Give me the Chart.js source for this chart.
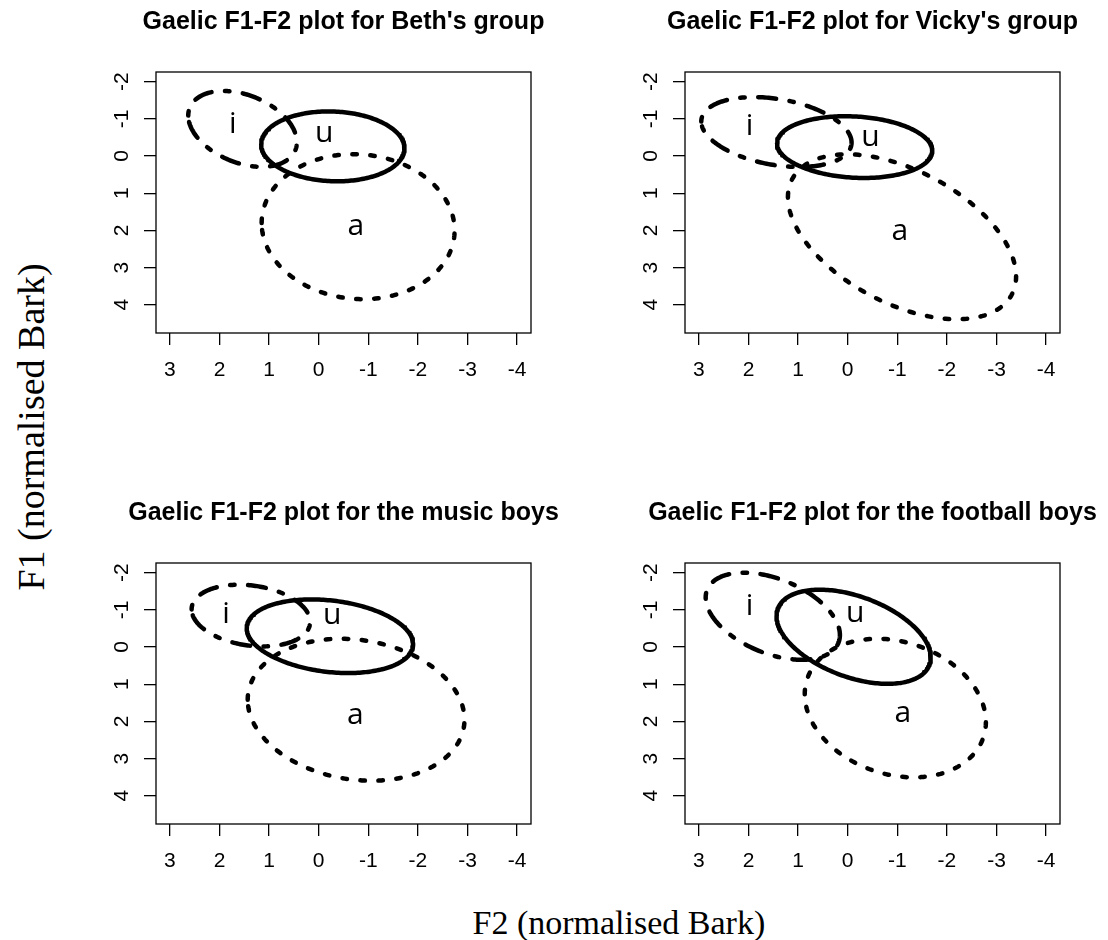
<!DOCTYPE html>
<html>
<head>
<meta charset="utf-8">
<title>Gaelic F1-F2 plots</title>
<script src="https://cdn.jsdelivr.net/npm/chart.js@4.4.1/dist/chart.umd.min.js"></script>
<style>
  html, body { margin: 0; padding: 0; background: #fff; }
  body { position: relative; width: 1108px; height: 940px; overflow: hidden; }
  .panel { position: absolute; }
  .axis-title {
    position: absolute;
    font-family: "Liberation Serif", "Times New Roman", serif;
    color: #000;
    white-space: nowrap;
    line-height: 1;
    transform-origin: center center;
  }
</style>
</head>
<body>
<div class="panel" id="panel0"><canvas id="chart0"></canvas></div>
<div class="panel" id="panel1"><canvas id="chart1"></canvas></div>
<div class="panel" id="panel2"><canvas id="chart2"></canvas></div>
<div class="panel" id="panel3"><canvas id="chart3"></canvas></div>
<div class="axis-title" id="yTitle">F1 (normalised Bark)</div>
<div class="axis-title" id="xTitle">F2 (normalised Bark)</div>

<script>
// ---- data ---------------------------------------------------------------
const panelTitles = [
  "Gaelic F1-F2 plot for Beth's group",
  "Gaelic F1-F2 plot for Vicky's group",
  "Gaelic F1-F2 plot for the music boys",
  "Gaelic F1-F2 plot for the football boys"
];
const vowels = ['i', 'u', 'a'];
const f2Ticks = [3, 2, 1, 0, -1, -2, -3, -4];
const f1Ticks = [-2, -1, 0, 1, 2, 3, 4];
const f2Limits = [-4, 3];
const f1Limits = [-2, 4.5];

// Vowel ellipses, rows i, u, a:
// [F2 centre, F1 centre, F2 half-range, F1 half-range, tilt]
// tilt = relative F1 offset of the point where F2 is largest
const bethEllipses = [
  [1.535, -0.73, 1.095, 1.02, -0.35],
  [-0.285, -0.26, 1.445, 0.94, -0.06],
  [-0.795, 1.90, 1.945, 1.95, -0.05]
];
const vickyEllipses = [
  [1.437, -0.645, 1.515, 0.94, -0.30],
  [-0.14, -0.24, 1.565, 0.83, -0.12],
  [-1.095, 2.172, 2.30, 2.218, -0.48]
];
const musicEllipses = [
  [1.367, -0.846, 1.195, 0.83, -0.20],
  [-0.226, -0.29, 1.677, 0.99, -0.22],
  [-0.754, 1.687, 2.185, 1.909, -0.14]
];
const footballEllipses = [
  [1.51, -0.828, 1.353, 1.172, -0.43],
  [-0.12, -0.276, 1.555, 1.266, -0.44],
  [-0.96, 1.642, 1.826, 1.864, -0.20]
];

// Vowel label anchors [F2, F1], rows i, u, a
const bethLabels = [[1.73, -0.86], [-0.11, -0.60], [-0.75, 1.89]];
const vickyLabels = [[1.98, -0.80], [-0.46, -0.51], [-1.05, 2.04]];
const musicLabels = [[1.87, -0.87], [-0.27, -0.85], [-0.74, 1.84]];
const footballLabels = [[1.98, -1.10], [-0.15, -0.90], [-1.11, 1.78]];

// ---- drawing ------------------------------------------------------------
const groupEllipses = [bethEllipses, vickyEllipses, musicEllipses, footballEllipses];
const groupLabels = [bethLabels, vickyLabels, musicLabels, footballLabels];

// plot box placement on the page
const boxes = [
  { left: 156, top: 72 }, { left: 685, top: 72 },
  { left: 156, top: 563 }, { left: 685, top: 563 }
];
const BOX_W = 375, BOX_H = 261;
const SIDE = 60, TOP_AREA = 72, BOTTOM_AXIS = 50, BOTTOM_PAD = 10;

const LW = 4.5;
// dot-dash for i, solid for u, dotted for a (dash lengths scale with line width)
const dashes = [[1 * LW, 3 * LW, 4 * LW, 3 * LW], [], [1 * LW, 3 * LW]];

const SANS = '"Liberation Sans", Arial, Helvetica, sans-serif';

function padRange([lo, hi]) {
  const d = (hi - lo) * 0.04;
  return [lo - d, hi + d];
}
const xRange = padRange(f2Limits);
const yRange = padRange(f1Limits);

// closed outline of an ellipse given its centre, half-ranges and tilt
function outline([cx, cy, rx, ry, tilt]) {
  const phase = Math.acos(tilt);
  const pts = [];
  const n = 240;
  for (let s = 0; s <= n; s++) {
    const t = (s / n) * 2 * Math.PI;
    pts.push({ x: cx + rx * Math.cos(t), y: cy + ry * Math.cos(t + phase) });
  }
  return pts;
}

const frameBox = {
  id: 'frameBox',
  afterDraw(chart) {
    const { ctx, chartArea: a } = chart;
    ctx.save();
    ctx.strokeStyle = '#000';
    ctx.lineWidth = 1.3;
    ctx.strokeRect(a.left, a.top, a.right - a.left, a.bottom - a.top);
    ctx.restore();
  }
};

const vowelLabels = {
  id: 'vowelLabels',
  afterDatasetsDraw(chart, args, opts) {
    const { ctx } = chart;
    const xs = chart.scales.x, ys = chart.scales.y;
    ctx.save();
    ctx.font = '30px "Open Sans", "Noto Sans", sans-serif';
    ctx.fillStyle = '#000';
    ctx.textAlign = 'center';
    ctx.textBaseline = 'middle';
    opts.points.forEach((p, j) => {
      ctx.fillText(vowels[j], xs.getPixelForValue(p[0]), ys.getPixelForValue(p[1]));
    });
    ctx.restore();
  }
};

groupEllipses.forEach((ellipses, g) => {
  const box = boxes[g];
  const w = SIDE + BOX_W + SIDE;
  const h = TOP_AREA + BOX_H + BOTTOM_AXIS + BOTTOM_PAD;
  const holder = document.getElementById('panel' + g);
  holder.style.left = (box.left - SIDE) + 'px';
  holder.style.top = (box.top - TOP_AREA) + 'px';
  holder.style.width = w + 'px';
  holder.style.height = h + 'px';
  const canvas = document.getElementById('chart' + g);
  canvas.width = w;
  canvas.height = h;
  canvas.style.width = w + 'px';
  canvas.style.height = h + 'px';

  const tickGrid = {
    display: true, drawOnChartArea: false, drawTicks: true,
    tickLength: 12, color: '#000', lineWidth: 1.3
  };

  new Chart(canvas.getContext('2d'), {
    type: 'scatter',
    data: {
      datasets: vowels.map((v, j) => ({
        label: v,
        data: outline(ellipses[j]),
        showLine: true,
        fill: false,
        borderColor: '#000',
        borderWidth: LW,
        borderDash: dashes[j],
        borderCapStyle: 'round',
        borderJoinStyle: 'round',
        pointRadius: 0,
        pointHoverRadius: 0,
        tension: 0
      }))
    },
    options: {
      responsive: false,
      animation: false,
      events: [],
      layout: { padding: { left: 0, right: 0, top: 0, bottom: BOTTOM_PAD } },
      plugins: {
        legend: { display: false },
        tooltip: { enabled: false },
        title: {
          display: true,
          text: panelTitles[g],
          fullSize: true,
          color: '#000',
          font: { family: SANS, size: 25, weight: 'bold', lineHeight: 1.2 },
          padding: { top: 7, bottom: 35 }
        },
        vowelLabels: { points: groupLabels[g] }
      },
      scales: {
        x: {
          type: 'linear',
          position: 'bottom',
          reverse: true,
          min: xRange[0],
          max: xRange[1],
          afterBuildTicks: s => { s.ticks = f2Ticks.map(v => ({ value: v })); },
          afterFit: s => { s.height = BOTTOM_AXIS; },
          border: { display: false },
          grid: tickGrid,
          ticks: {
            color: '#000', font: { family: SANS, size: 21 }, padding: 13,
            minRotation: 0, maxRotation: 0, autoSkip: false,
            callback: v => String(v)
          }
        },
        y: {
          type: 'linear',
          position: 'left',
          reverse: true,
          min: yRange[0],
          max: yRange[1],
          afterBuildTicks: s => { s.ticks = f1Ticks.map(v => ({ value: v })); },
          afterFit: s => { s.width = SIDE; },
          border: { display: false },
          grid: tickGrid,
          ticks: {
            color: '#000', font: { family: SANS, size: 21 }, padding: 12.2,
            minRotation: 90, maxRotation: 90, crossAlign: 'center', autoSkip: false,
            callback: v => String(v)
          }
        },
        // empty right-hand margin so the panel title centres over the plot box
        margin: {
          type: 'linear',
          position: 'right',
          display: true,
          afterFit: s => { s.width = SIDE; },
          border: { display: false },
          grid: { display: false, drawTicks: false },
          ticks: { display: false }
        }
      }
    },
    plugins: [frameBox, vowelLabels]
  });
});

// shared axis titles
const yTitle = document.getElementById('yTitle');
yTitle.style.fontSize = '38px';
const xTitle = document.getElementById('xTitle');
xTitle.style.fontSize = '34px';
function centreAt(el, cx, cy, rot) {
  const w = el.offsetWidth, h = el.offsetHeight;
  el.style.left = (cx - w / 2) + 'px';
  el.style.top = (cy - h / 2) + 'px';
  if (rot) el.style.transform = 'rotate(' + rot + 'deg)';
}
centreAt(yTitle, 30, 426.5, -90);
centreAt(xTitle, 619, 923.3, 0);
</script>
</body>
</html>
